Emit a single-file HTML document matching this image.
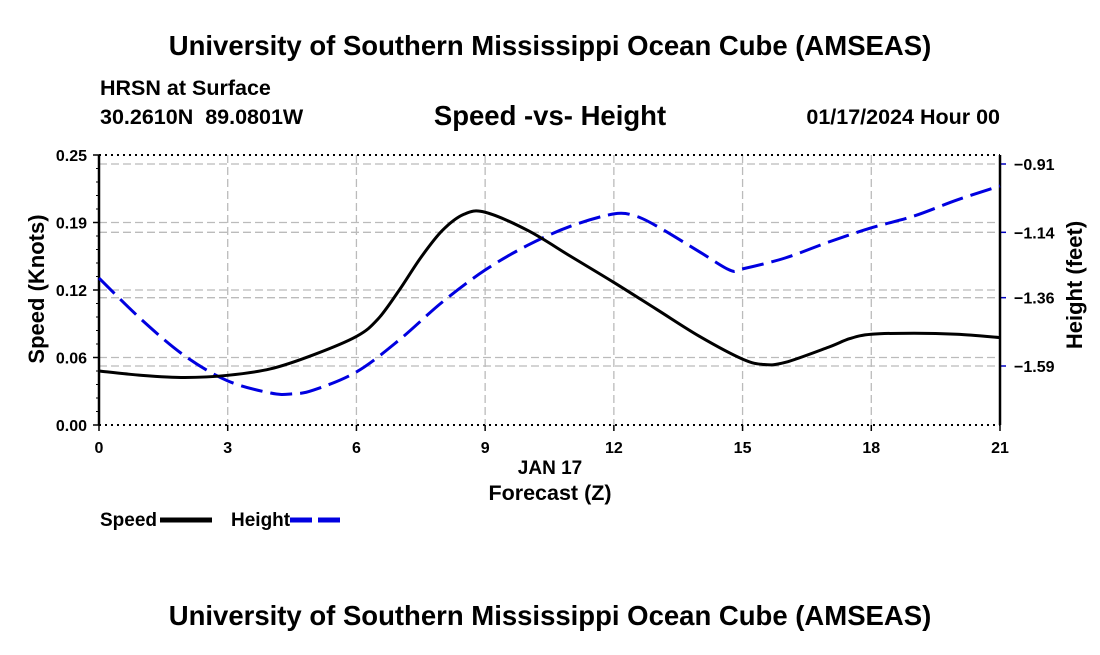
<!DOCTYPE html>
<html><head><meta charset="utf-8"><style>
body{margin:0;background:#fff;}
svg text{font-family:"Liberation Sans",sans-serif;font-weight:bold;}
</style></head><body>
<svg id="chart" width="1100" height="650" xmlns="http://www.w3.org/2000/svg">
<text x="550" y="55" font-size="27.5" text-anchor="middle">University of Southern Mississippi Ocean Cube (AMSEAS)</text>
<text x="100" y="95" font-size="21.5">HRSN at Surface</text>
<text x="100" y="124" font-size="21.5" style="white-space:pre">30.2610N  89.0801W</text>
<text x="550" y="125" font-size="27.5" text-anchor="middle">Speed -vs- Height</text>
<text x="1000" y="124" font-size="21.5" text-anchor="end">01/17/2024 Hour 00</text>
<g id="grid"></g>
<g id="axes"></g>
<g id="series"></g>
<text transform="translate(44,289) rotate(-90)" font-size="22" text-anchor="middle">Speed (Knots)</text>
<text transform="translate(1082,285) rotate(-90)" font-size="22" text-anchor="middle">Height (feet)</text>
<text x="550" y="474" font-size="19" text-anchor="middle">JAN 17</text>
<text x="550" y="500" font-size="21.5" text-anchor="middle">Forecast (Z)</text>
<g><text x="100" y="526" font-size="19">Speed</text><line x1="160" y1="520" x2="212" y2="520" stroke="#000" stroke-width="5"/></g>
<g><text x="231" y="526" font-size="19">Height</text><line x1="290" y1="520" x2="342" y2="520" stroke="#0000e0" stroke-width="5" stroke-dasharray="22,6"/></g>
<text x="550" y="625" font-size="27.5" text-anchor="middle">University of Southern Mississippi Ocean Cube (AMSEAS)</text>
</svg>
<script>
const hours=[0,1,2,3,4,5,6,6.5,7,7.5,8,8.5,9,10,11,12,13,14,15,15.5,16,17,17.5,18,19,20,21];
const speed=[0.050,0.046,0.044,0.046,0.052,0.065,0.082,0.098,0.125,0.155,0.180,0.195,0.197,0.180,0.156,0.132,0.107,0.082,0.061,0.056,0.058,0.072,0.080,0.084,0.085,0.084,0.081];
const hHours=[0,1,2,3,4,4.5,5,6,7,8,9,10,11,12,12.5,13,14,14.7,15,16,17,18,19,20,21];
const height=[-1.294,-1.435,-1.556,-1.640,-1.681,-1.684,-1.671,-1.610,-1.502,-1.375,-1.267,-1.183,-1.119,-1.078,-1.085,-1.119,-1.206,-1.267,-1.263,-1.226,-1.173,-1.125,-1.085,-1.031,-0.984];
const xTicks=[0,3,6,9,12,15,18,21];
const leftTicks=[0,0.0625,0.125,0.1875,0.25];
const leftLabels=["0.00","0.06","0.12","0.19","0.25"];
const rightTicks=[-0.91,-1.14,-1.36,-1.59];
const rightLabels=["\u22120.91","\u22121.14","\u22121.36","\u22121.59"];
const X0=99,X1=1000,Y0=425,Y1=155;
const xs=h=>X0+(X1-X0)*h/21;
const ys=v=>Y0-(Y0-Y1)*v/0.25;
const yh=f=>164+(-0.91-f)*202/0.68;
const NS="http://www.w3.org/2000/svg";
function mk(tag,attrs,parent){const e=document.createElementNS(NS,tag);for(const k in attrs)e.setAttribute(k,attrs[k]);parent.appendChild(e);return e;}
const grid=document.getElementById('grid'),axes=document.getElementById('axes'),series=document.getElementById('series');
xTicks.forEach(t=>{const l=mk('line',{x1:xs(t),x2:xs(t),y1:Y1,y2:Y0,stroke:'#bbb','stroke-width':1.3,'stroke-dasharray':'8,4'},grid);

const tx=mk('text',{x:xs(t),y:453,'font-size':16,'text-anchor':'middle'},axes);tx.textContent=t;

mk('line',{x1:xs(t),x2:xs(t),y1:Y0,y2:Y0+6,stroke:'#000','stroke-width':1.5},axes);});
leftTicks.forEach((t,i)=>{if(i>0&&i<4){const l=mk('line',{x1:X0,x2:X1,y1:ys(t),y2:ys(t),stroke:'#bbb','stroke-width':1.3,'stroke-dasharray':'8,4'},grid);
}
mk('line',{x1:X0-6,x2:X0,y1:ys(t),y2:ys(t),stroke:'#000','stroke-width':1.5},axes);
const tx=mk('text',{x:X0-12,y:ys(t)+6,'font-size':16,'text-anchor':'end'},axes);tx.textContent=leftLabels[i];
});
for(let v=0;v<=0.25001;v+=0.25/20){mk('line',{x1:X0-3,x2:X0,y1:ys(v),y2:ys(v),stroke:'#000','stroke-width':1},axes);}
rightTicks.forEach((t,i)=>{const l=mk('line',{x1:X0,x2:X1,y1:yh(t),y2:yh(t),stroke:'#bbb','stroke-width':1.3,'stroke-dasharray':'8,4'},grid);

mk('line',{x1:X1,x2:X1+6,y1:yh(t),y2:yh(t),stroke:'#0000c0','stroke-width':1.5},axes);
const tx=mk('text',{x:X1+14,y:yh(t)+6,'font-size':16},axes);tx.textContent=rightLabels[i];
});
mk('line',{x1:X0,x2:X1,y1:Y1,y2:Y1,stroke:'#000','stroke-width':2,'stroke-dasharray':'2,4'},axes);
mk('line',{x1:X0,x2:X1,y1:Y0,y2:Y0,stroke:'#000','stroke-width':2,'stroke-dasharray':'2,4'},axes);
mk('line',{x1:X0,x2:X0,y1:Y1,y2:Y0,stroke:'#000','stroke-width':2.5},axes);
mk('line',{x1:X1,x2:X1,y1:Y1,y2:Y0,stroke:'#000','stroke-width':2.5},axes);
function smooth(pts){let d='M'+pts[0][0]+','+pts[0][1];for(let i=0;i<pts.length-1;i++){const p0=pts[i-1]||pts[i],p1=pts[i],p2=pts[i+1],p3=pts[i+2]||p2;
d+=' C'+(p1[0]+(p2[0]-p0[0])/6)+','+(p1[1]+(p2[1]-p0[1])/6)+' '+(p2[0]-(p3[0]-p1[0])/6)+','+(p2[1]-(p3[1]-p1[1])/6)+' '+p2[0]+','+p2[1];}return d;}
const hp=mk('path',{d:smooth(hHours.map((h,i)=>[xs(h),yh(height[i])])),fill:'none',stroke:'#0000e0','stroke-width':3,'stroke-dasharray':'22,8'},series);

const sp=mk('path',{d:smooth(hours.map((h,i)=>[xs(h),ys(speed[i])])),fill:'none',stroke:'#000','stroke-width':3},series);

</script>
</body></html>
